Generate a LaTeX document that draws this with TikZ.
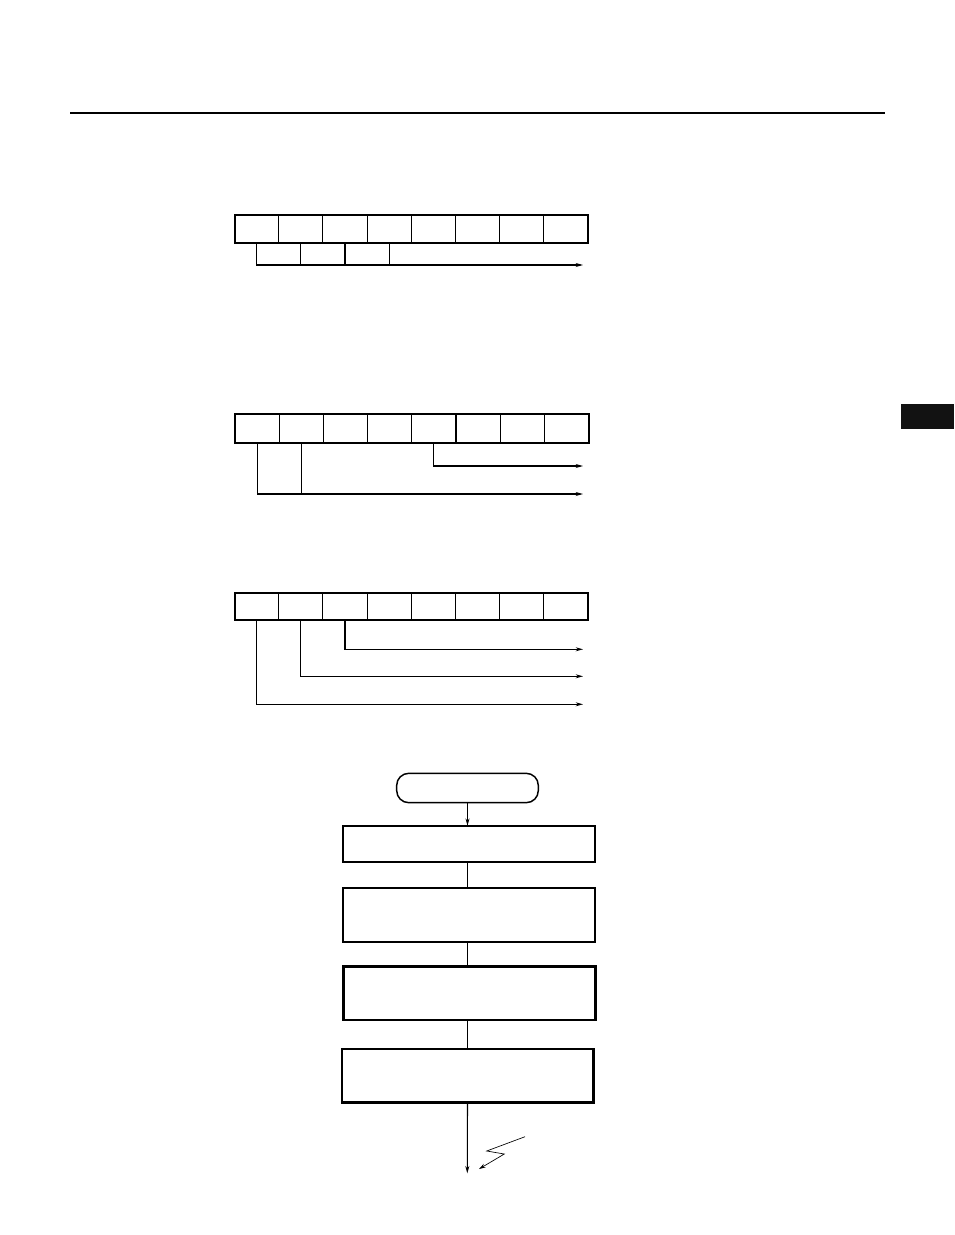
\documentclass[tikz,border=0pt]{standalone}
\usetikzlibrary{arrows.meta}
\begin{document}
\begin{tikzpicture}[x=0.75pt,y=-0.75pt,
  cell/.style={draw,line width=0.8pt,minimum width=33.09pt,minimum height=21pt,inner sep=0pt,outer sep=0pt},
  frame/.style={line width=1.4pt},
  conn/.style={line width=0.8pt},
  arr/.style={conn,-{Stealth[length=5.5pt,width=3pt]}},
  procbox/.style={draw,line width=1.8pt,minimum width=189.2pt,inner sep=0pt,outer sep=0pt},
  termbox/.style={draw,line width=1.1pt,rounded corners=9pt,minimum width=106.2pt,minimum height=22pt,inner sep=0pt,outer sep=0pt}]
\useasboundingbox (0,0) rectangle (954,1235);
% top rule and tab
\draw[line width=1.5pt] (70,113) -- (885,113);
\fill[black!93] (901,404) rectangle (954,429);
% register 1
\foreach \i in {1,...,8}
  \node[cell] (a\i) at ({234.7+44.125*(\i-0.5)},229.3) {};
\draw[frame] (a1.north west) rectangle (a8.south east);
\coordinate (ea) at (583,265);
\draw[arr] (a1.south) |- (ea);
\foreach \i in {2,3,4} \draw[conn] (a\i.south) -- (a\i.south |- ea);
% register 2
\foreach \i in {1,...,8}
  \node[cell,minimum height=21.5pt] (b\i) at ({235+44.21*(\i-0.5)},428.35) {};
\draw[frame] (b1.north west) rectangle (b8.south east);
\coordinate (eb1) at (583,466);
\coordinate (eb2) at (583,494);
\draw[arr] (b5.south) |- (eb1);
\draw[arr] (b1.south) |- (eb2);
\draw[conn] (b2.south) -- (b2.south |- eb2);
% register 3
\foreach \i in {1,...,8}
  \node[cell,minimum height=20.3pt] (c\i) at ({234.7+44.125*(\i-0.5)},606.8) {};
\draw[frame] (c1.north west) rectangle (c8.south east);
\coordinate (ec1) at (583,649.3);
\coordinate (ec2) at (583,676.3);
\coordinate (ec3) at (583,704.3);
\draw[arr] (c3.south) |- (ec1);
\draw[arr] (c2.south) |- (ec2);
\draw[arr] (c1.south) |- (ec3);
% flowchart
\node[termbox] (t) at (467.5,788) {};
\node[procbox,minimum height=27pt] (p1) at (468.85,843.7) {};
\node[procbox,minimum height=40.5pt] (p2) at (468.85,914.7) {};
\node[procbox,minimum height=40pt] (p3) at (469.5,993.35) {};
\node[procbox,minimum height=40pt,minimum width=188.7pt] (p4) at (467.5,1075.65) {};
\draw[arr] (t.south) -- (t.south |- p1.north);
\draw[conn] (t.south |- p1.south) -- (t.south |- p2.north);
\draw[conn] (t.south |- p2.south) -- (t.south |- p3.north);
\draw[conn] (t.south |- p3.south) -- (t.south |- p4.north);
\coordinate (fend) at (467.3,1173.3);
\draw[arr] (t.south |- p4.south) -- (fend);
% lightning
\coordinate (l1) at (525,1136.7);
\coordinate (l2) at (486.7,1151);
\coordinate (l3) at (504.3,1154);
\coordinate (l4) at (479,1169);
\draw[line width=0.5pt,-{Stealth[length=5pt,width=3pt]}] (l1) -- (l2) -- (l3) -- (l4);
\end{tikzpicture}
\end{document}
